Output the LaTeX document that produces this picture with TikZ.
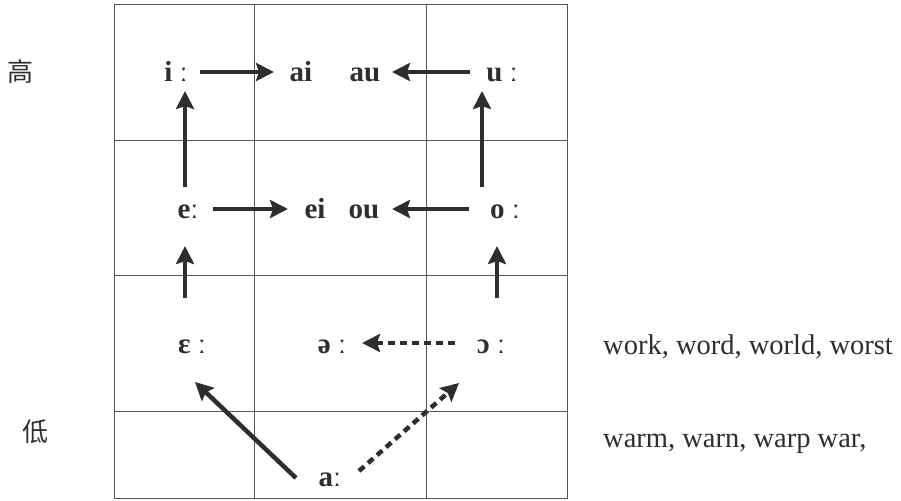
\documentclass[tikz,border=0pt]{standalone}
\usepackage{fontspec}
\setmainfont{Liberation Serif}
\newfontfamily\cjk{Noto Sans CJK SC}
\usetikzlibrary{arrows.meta}
\definecolor{ink}{HTML}{2E2E2E}
\definecolor{gridc}{HTML}{555555}
\tikzset{
  lab/.style={font=\fontsize{29}{29}\selectfont\bfseries, text=ink, inner sep=0pt, anchor=base},
  word/.style={font=\fontsize{28.5}{28.5}\selectfont, text=ink, inner sep=0pt, anchor=base west},
  han/.style={font=\fontsize{26}{26}\selectfont\cjk, text=ink, inner sep=0pt},
  arr/.style={draw=ink, line width=4.5pt, -{Stealth[length=18pt,width=18pt,inset=3pt]}},
  darr/.style={arr, dash pattern=on 7pt off 5pt},
  gridline/.style={draw=gridc, line width=1pt}
}
\begin{document}
\begin{tikzpicture}[x=1pt,y=-1pt]
\useasboundingbox (0,0) rectangle (901,500);
% grid
\draw[gridline] (114,5) rectangle (567,498);
\foreach \x in {254,426} \draw[gridline] (\x,5) -- (\x,498);
\foreach \y in {140,275,411} \draw[gridline] (114,\y) -- (567,\y);
% labels
\node[lab] (i) at (176,82) {i ː};
\node[lab] (ai) at (301,82) {ai};
\node[lab] (au) at (365,82) {au};
\node[lab] (u) at (502,82) {u ː};
\node[lab] (e) at (188,218) {eː};
\node[lab] (ei) at (315,218) {ei};
\node[lab] (ou) at (364,218) {ou};
\node[lab] (o) at (505,218) {o ː};
\node[lab] (eps) at (192,353) {ɛ ː};
\node[lab] (schwa) at (332,353) {ə ː};
\node[lab] (oo) at (491,353) {ɔ ː};
\node[lab] (a) at (330,486) {aː};
\node[han] (gao) at (21,72) {高};
\node[han] (di) at (35,432) {低};
\node[word] (w1) at (603,354) {work, word, world, worst};
\node[word] (w2) at (603,447) {warm, warn, warp war,};
% arrow ends
\coordinate (i-s) at (200,72);   \coordinate (ai-e) at (274,72);
\coordinate (u-s) at (470,72);   \coordinate (au-e) at (392,72);
\coordinate (e-s) at (213,209);  \coordinate (ei-e) at (288,209);
\coordinate (o-s) at (469,209);  \coordinate (ou-e) at (392,209);
\coordinate (e-up) at (185,187); \coordinate (i-dn) at (185,91);
\coordinate (o-up) at (482,187); \coordinate (u-dn) at (482,91);
\coordinate (eps-up) at (185,298); \coordinate (e-dn) at (185,246);
\coordinate (oo-up) at (497,298);  \coordinate (o-dn) at (497,246);
\coordinate (oo-s) at (455,343);   \coordinate (schwa-e) at (362,343);
\coordinate (a-l) at (296,478);    \coordinate (eps-dn) at (195,382);
\coordinate (a-r) at (359,471);    \coordinate (oo-dn) at (459,383);
% arrows
\draw[arr] (i-s) -- (ai-e);
\draw[arr] (u-s) -- (au-e);
\draw[arr] (e-s) -- (ei-e);
\draw[arr] (o-s) -- (ou-e);
\draw[arr] (e-up) -- (i-dn);
\draw[arr] (o-up) -- (u-dn);
\draw[arr] (eps-up) -- (e-dn);
\draw[arr] (oo-up) -- (o-dn);
\draw[darr] (oo-s) -- (schwa-e);
\draw[arr] (a-l) -- (eps-dn);
\draw[darr] (a-r) -- (oo-dn);
\end{tikzpicture}
\end{document}
